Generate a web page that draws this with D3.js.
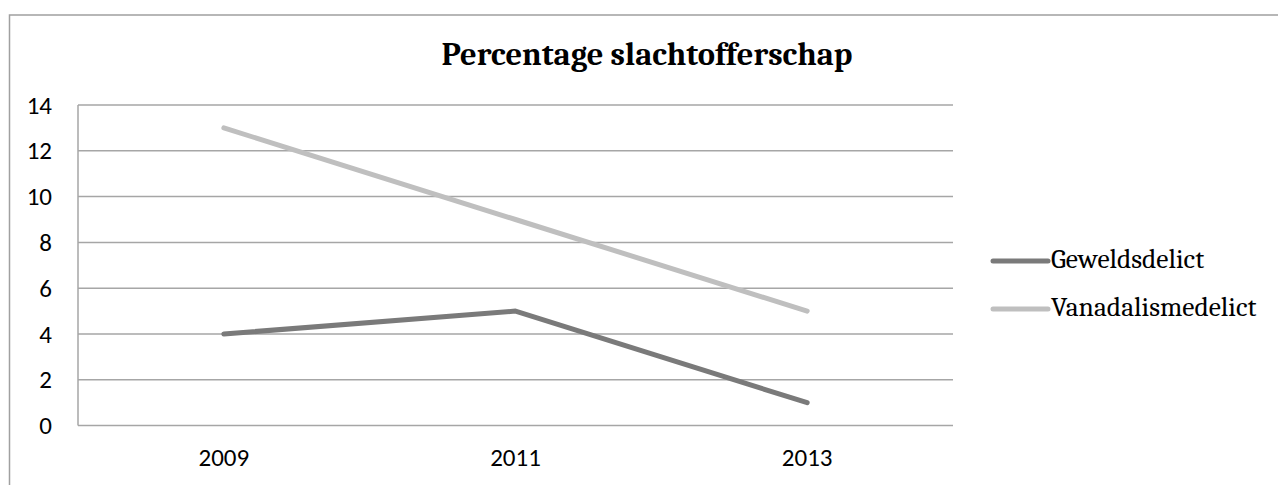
<!DOCTYPE html>
<html>
<head>
<meta charset="utf-8">
<script src="https://cdn.jsdelivr.net/npm/d3@7/dist/d3.min.js"></script>
<style>
  body { margin: 0; background: #fff; }
  .axis text { font-family: Carlito, Calibri, "Liberation Sans", sans-serif; font-size: 25px; fill: #000; }
</style>
</head>
<body>
<div id="chart"></div>
<script>
"use strict";

// chart data
var years = ["2009", "2011", "2013"];
var geweld = [4, 5, 1];
var vandalisme = [13, 9, 5];
var seriesNames = ["Geweldsdelict", "Vanadalismedelict"];
var seriesColors = ["#7a7a7a", "#bfbfbf"];
var yTicks = [0, 2, 4, 6, 8, 10, 12, 14];

function renderMyChart() {
    var svg = d3.select("#chart").append("svg")
        .attr("width", 1278)
        .attr("height", 485),
        margin = { top: 105, left: 78 },
        width = 875,
        height = 320.6;

    // chart frame
    svg.append("rect")
        .attr("x", 9.5).attr("y", 15)
        .attr("width", 1300).attr("height", 500)
        .attr("fill", "none")
        .attr("stroke", "#a0a0a0")
        .attr("stroke-width", 1.5);

    svg.append("text")
        .attr("x", 647).attr("y", 65)
        .attr("text-anchor", "middle")
        .style("font-family", "Cambria, Caladea, 'Liberation Serif', serif")
        .style("font-weight", "bold")
        .style("font-size", "32.5px")
        .text("Percentage slachtofferschap");

    var x = d3.scaleBand().domain(years).range([0, width]),
        y = d3.scaleLinear().domain([0, 14]).range([height, 0]);

    var g = svg.append("g")
        .attr("transform", "translate(" + margin.left + "," + margin.top + ")");

    // gridlines
    g.selectAll(".grid")
        .data(yTicks)
        .enter().append("line")
        .attr("x1", 0).attr("x2", width)
        .attr("y1", function (d) { return y(d); })
        .attr("y2", function (d) { return y(d); })
        .attr("stroke", "#a6a6a6")
        .attr("stroke-width", 1.5);

    g.append("line")
        .attr("x1", 0).attr("x2", 0)
        .attr("y1", 0).attr("y2", height)
        .attr("stroke", "#a6a6a6")
        .attr("stroke-width", 1.5);

    var yAxis = g.append("g")
        .attr("class", "axis")
        .call(d3.axisLeft(y).tickValues(yTicks).tickSize(0).tickPadding(26));
    yAxis.select(".domain").remove();

    var xAxis = g.append("g")
        .attr("class", "axis")
        .attr("transform", "translate(0," + height + ")")
        .call(d3.axisBottom(x).tickSize(0).tickPadding(23));
    xAxis.select(".domain").remove();

    var line = d3.line()
        .x(function (d, i) { return x(years[i]) + x.bandwidth() / 2; })
        .y(function (d) { return y(d); });

    [geweld, vandalisme].forEach(function (s, i) {
        g.append("path")
            .datum(s)
            .attr("fill", "none")
            .attr("stroke", seriesColors[i])
            .attr("stroke-width", 5)
            .attr("stroke-linecap", "round")
            .attr("stroke-linejoin", "round")
            .attr("d", line);
    });

    // legend
    var legend = svg.append("g").attr("transform", "translate(993,261)");
    seriesNames.forEach(function (name, i) {
        var row = legend.append("g").attr("transform", "translate(0," + i * 48 + ")");
        row.append("line")
            .attr("x1", 0).attr("x2", 55)
            .attr("stroke", seriesColors[i])
            .attr("stroke-width", 5)
            .attr("stroke-linecap", "round");
        row.append("text")
            .attr("x", 58).attr("y", 7)
            .style("font-family", "Cambria, Caladea, 'Liberation Serif', serif")
            .style("font-size", "27.5px")
            .text(name);
    });
}

renderMyChart();
</script>
</body>
</html>
